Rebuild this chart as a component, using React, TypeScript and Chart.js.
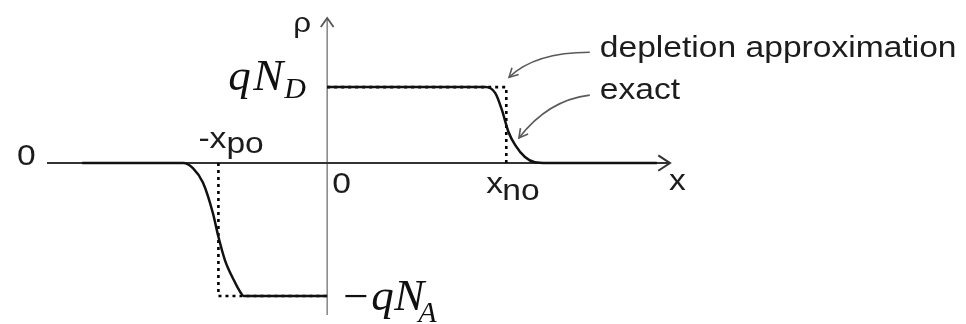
import { useEffect, useRef } from "react";
import { Chart, registerables } from "chart.js";

Chart.register(...registerables);

// Space-charge density ρ(x) across an abrupt p-n junction, ρ in units of qN_D.
const qND = 1.0;
const qNA = 1.75;
const xpo = 0.99;
const xno = 1.63;

// Exact profile, p side (x < 0) and n side (x > 0)
const exactPX = [-2.23, -1.31, -1.22, -1.13, -1.04, -0.99, -0.93, -0.85, -0.79, -0.76, -0.5, 0];
const exactPRho = [0, 0, -0.07, -0.26, -0.66, -0.97, -1.28, -1.54, -1.7, -1.75, -1.75, -1.75];
const exactNX = [0, 1.2, 1.44, 1.53, 1.59, 1.65, 1.71, 1.8, 1.89, 2.0, 3.0];
const exactNRho = [1, 1, 1, 0.92, 0.7, 0.41, 0.24, 0.08, 0.01, 0, 0];

// Depletion approximation: box profile
const deplPX = [-xpo, -xpo, 0];
const deplPRho = [0, -qNA, -qNA];
const deplNX = [0, xno, xno];
const deplNRho = [qND, qND, 0];

const xRange = [-2.55, 3.12];
const rhoRange = [-2.0, 1.91];

// Callout arrows: [start, control, tip] in data units
const deplArrow = [[2.39, 1.46], [1.89, 1.46], [1.655, 1.13]];
const exactArrow = [[2.39, 0.895], [2.01, 0.83], [1.745, 0.33]];

const toPoints = (xs: number[], ys: number[]) => xs.map((x, i) => ({ x, y: ys[i] }));

const SANS = "Liberation Sans, Arial, sans-serif";
const SERIF = "Liberation Serif, Times New Roman, serif";

function sans(ctx: CanvasRenderingContext2D, text: string, px: number, py: number, size = 30) {
  ctx.save();
  ctx.translate(px, py);
  ctx.scale(1.12, 1);
  ctx.font = `${size}px ${SANS}`;
  ctx.textAlign = "left";
  ctx.textBaseline = "alphabetic";
  ctx.fillStyle = "#1c1c1c";
  ctx.fillText(text, 0, 0);
  ctx.restore();
}

function serif(ctx: CanvasRenderingContext2D, text: string, px: number, py: number, size: number) {
  ctx.save();
  ctx.font = `italic ${size}px ${SERIF}`;
  ctx.textAlign = "left";
  ctx.textBaseline = "alphabetic";
  ctx.fillStyle = "#101010";
  ctx.fillText(text, px, py);
  ctx.restore();
}

function arrowHead(ctx: CanvasRenderingContext2D, tx: number, ty: number, fx: number, fy: number, len: number, spread: number) {
  const a = Math.atan2(ty - fy, tx - fx);
  ctx.beginPath();
  ctx.moveTo(tx - len * Math.cos(a - spread), ty - len * Math.sin(a - spread));
  ctx.lineTo(tx, ty);
  ctx.lineTo(tx - len * Math.cos(a + spread), ty - len * Math.sin(a + spread));
  ctx.stroke();
}

const junctionPlugin = {
  id: "junctionAxes",
  beforeDatasetsDraw(chart: any) {
    const { ctx, chartArea, scales } = chart;
    const x0 = scales.x.getPixelForValue(0);
    const y0 = scales.y.getPixelForValue(0);
    ctx.save();
    // ρ axis
    ctx.strokeStyle = "#8c8c8c";
    ctx.lineWidth = 1.6;
    ctx.beginPath();
    ctx.moveTo(x0, chartArea.top + 1);
    ctx.lineTo(x0, chartArea.bottom);
    ctx.stroke();
    ctx.strokeStyle = "#555";
    ctx.lineWidth = 1.8;
    arrowHead(ctx, x0, chartArea.top, x0, chartArea.top + 20, 11, 0.62);
    // x axis
    ctx.strokeStyle = "#333";
    ctx.lineWidth = 2;
    ctx.beginPath();
    ctx.moveTo(chartArea.left, y0);
    ctx.lineTo(chartArea.right, y0);
    ctx.stroke();
    arrowHead(ctx, chartArea.right, y0, chartArea.left, y0, 14, 0.58);
    ctx.restore();
  },
  afterDatasetsDraw(chart: any) {
    const { ctx, chartArea, scales } = chart;
    const sx = (v: number) => scales.x.getPixelForValue(v);
    const sy = (v: number) => scales.y.getPixelForValue(v);
    const x0 = sx(0);
    const y0 = sy(0);

    // axis labels
    sans(ctx, "ρ", x0 - 34, chartArea.top + 14, 28);
    sans(ctx, "0", chartArea.left - 30, y0 + 2);
    sans(ctx, "0", x0 + 5, y0 + 30);
    sans(ctx, "x", chartArea.right - 1, y0 + 27);
    sans(ctx, "-x", sx(-xpo) - 20, y0 - 15);
    sans(ctx, "po", sx(-xpo) + 8, y0 - 10);
    sans(ctx, "x", sx(xno) - 20, y0 + 30);
    sans(ctx, "no", sx(xno) - 4, y0 + 37);

    // level labels
    const yD = sy(qND);
    serif(ctx, "q", x0 - 99, yD + 3, 45);
    serif(ctx, "N", x0 - 74, yD + 3, 45);
    serif(ctx, "D", x0 - 43, yD + 11, 30);
    const yA = sy(-qNA);
    serif(ctx, "\u2212", x0 + 13, yA + 15, 45);
    serif(ctx, "q", x0 + 44, yA + 14, 45);
    serif(ctx, "N", x0 + 67, yA + 14, 45);
    serif(ctx, "A", x0 + 91, yA + 26, 30);

    // callouts
    ctx.save();
    ctx.strokeStyle = "#5a5a5a";
    ctx.lineWidth = 1.6;
    for (const arr of [deplArrow, exactArrow]) {
      const [p0, c, p2] = arr.map(([a, b]) => [sx(a), sy(b)]);
      ctx.beginPath();
      ctx.moveTo(p0[0], p0[1]);
      ctx.quadraticCurveTo(c[0], c[1], p2[0], p2[1]);
      ctx.stroke();
      arrowHead(ctx, p2[0], p2[1], c[0], c[1], 10, 0.5);
    }
    ctx.restore();
    const [ds] = deplArrow;
    const [es] = exactArrow;
    sans(ctx, "depletion approximation", sx(ds[0]) + 10, sy(ds[1]) + 5);
    sans(ctx, "exact", sx(es[0]) + 10, sy(es[1]) + 4);
  },
};

export default function App() {
  const canvasRef = useRef<HTMLCanvasElement | null>(null);

  useEffect(() => {
    if (!canvasRef.current) return;
    const exactStyle = {
      borderColor: "#111",
      borderWidth: 2.5,
      pointRadius: 0,
      cubicInterpolationMode: "monotone" as const,
      fill: false,
    };
    const deplStyle = {
      borderColor: "#000",
      borderWidth: 2.6,
      borderDash: [3, 4],
      pointRadius: 0,
      tension: 0,
      fill: false,
    };
    const chart = new Chart(canvasRef.current, {
      type: "line",
      data: {
        datasets: [
          { label: "exact (p side)", data: toPoints(exactPX, exactPRho), ...exactStyle },
          { label: "exact (n side)", data: toPoints(exactNX, exactNRho), ...exactStyle },
          { label: "depletion approximation (p side)", data: toPoints(deplPX, deplPRho), ...deplStyle },
          { label: "depletion approximation (n side)", data: toPoints(deplNX, deplNRho), ...deplStyle },
        ],
      },
      options: {
        animation: false,
        responsive: false,
        devicePixelRatio: 1,
        events: [],
        layout: { padding: { left: 47, right: 296, top: 18, bottom: 9 } },
        plugins: { legend: { display: false }, tooltip: { enabled: false } },
        scales: {
          x: { type: "linear", min: xRange[0], max: xRange[1], display: false },
          y: { type: "linear", min: rhoRange[0], max: rhoRange[1], display: false },
        },
      },
      plugins: [junctionPlugin],
    });
    return () => chart.destroy();
  }, []);

  return (
    <div style={{ position: "absolute", left: 0, top: 0, width: 966, height: 324, background: "#fff" }}>
      <canvas ref={canvasRef} width={966} height={324} style={{ display: "block" }} />
    </div>
  );
}
